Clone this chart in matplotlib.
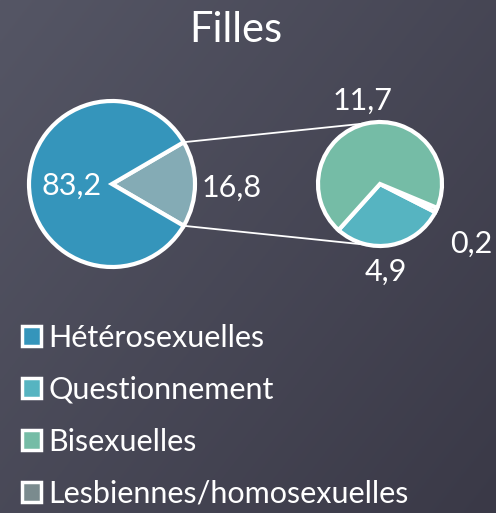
import numpy as np
import matplotlib
matplotlib.use("Agg")
import matplotlib.pyplot as plt
from matplotlib.patches import Patch

# Data
title = "Filles"
main_labels = ["Autres", "Hétérosexuelles"]
main_values = [16.8, 83.2]
sub_labels = ["Questionnement", "Lesbiennes/homosexuelles", "Bisexuelles"]
sub_values = [4.9, 0.2, 11.7]
legend_labels = ["Hétérosexuelles", "Questionnement", "Bisexuelles", "Lesbiennes/homosexuelles"]

def fmt(v):
    return f"{v:.1f}".replace(".", ",")

c_het = "#3595bb"
c_other = "#84abb5"
c_q = "#56b4c1"
c_bi = "#75bca6"
c_les = "#7a8b8e"

W, H = 496, 513
fig = plt.figure(figsize=(W / 100, H / 100), dpi=100)
ax = fig.add_axes([0, 0, 1, 1])

# background gradient
yy, xx = np.mgrid[0:1:200j, 0:1:200j]
t = 0.55 * xx + 0.45 * yy
c0 = np.array([0x55, 0x56, 0x65]) / 255
c1 = np.array([0x3a, 0x39, 0x47]) / 255
img = c0[None, None, :] * (1 - t[..., None]) + c1[None, None, :] * t[..., None]
ax.imshow(img, extent=[0, W, 0, H], origin="upper", zorder=0, aspect="auto")

font = ["Lato", "DejaVu Sans"]
wt = "normal"
wp = dict(edgecolor="white", linewidth=3)

# main pie
lc = (112, H - 184)
lr = 83
half = main_values[0] / sum(main_values) * 360 / 2
ax.pie(main_values, colors=[c_other, c_het], startangle=-half, counterclock=True,
       center=lc, radius=lr, wedgeprops=wp, frame=True)

# sub pie
rc = (380, H - 184)
rr = 62
q_deg = sub_values[0] / sum(sub_values) * 360
ax.pie(sub_values, colors=[c_q, c_les, c_bi], startangle=-27 - q_deg, counterclock=True,
       center=rc, radius=rr, wedgeprops=wp, frame=True)

# connector lines
for a_l, a_r in [(half, 101), (-half, -100)]:
    x0 = lc[0] + lr * np.cos(np.radians(a_l))
    y0 = lc[1] + lr * np.sin(np.radians(a_l))
    x1 = rc[0] + rr * np.cos(np.radians(a_r))
    y1 = rc[1] + rr * np.sin(np.radians(a_r))
    ax.plot([x0, x1], [y0, y1], color="white", lw=1.3, zorder=1)

ax.set_xlim(0, W)
ax.set_ylim(0, H)
ax.set_aspect("auto")
ax.axis("off")

tk = dict(color="white", fontsize=22, family=font, weight=wt, ha="center", va="center")
ax.text(72, H - 186, fmt(main_values[1]), **tk)
ax.text(232, H - 188, fmt(main_values[0]), **tk)
ax.text(363, H - 101, fmt(sub_values[2]), **tk)
ax.text(386, H - 272, fmt(sub_values[0]), **tk)
ax.text(471, H - 244, fmt(sub_values[1]), **tk)

ax.text(236, H - 30, title, color="white", fontsize=30, family=font, weight=wt,
        ha="center", va="center")

handles = [Patch(facecolor=c, edgecolor="white", linewidth=2.5) for c in [c_het, c_q, c_bi, c_les]]
leg = ax.legend(handles, legend_labels, loc="upper left", bbox_to_anchor=(22 / W, 1 - 324 / H),
                bbox_transform=fig.transFigure, frameon=False,
                handlelength=0.62, handleheight=0.62, handletextpad=0.25,
                labelspacing=0.78, borderaxespad=0, borderpad=0,
                prop=dict(family=font, size=22, weight=wt))
for tx in leg.get_texts():
    tx.set_color("white")

fig.savefig("out.png", dpi=100)
